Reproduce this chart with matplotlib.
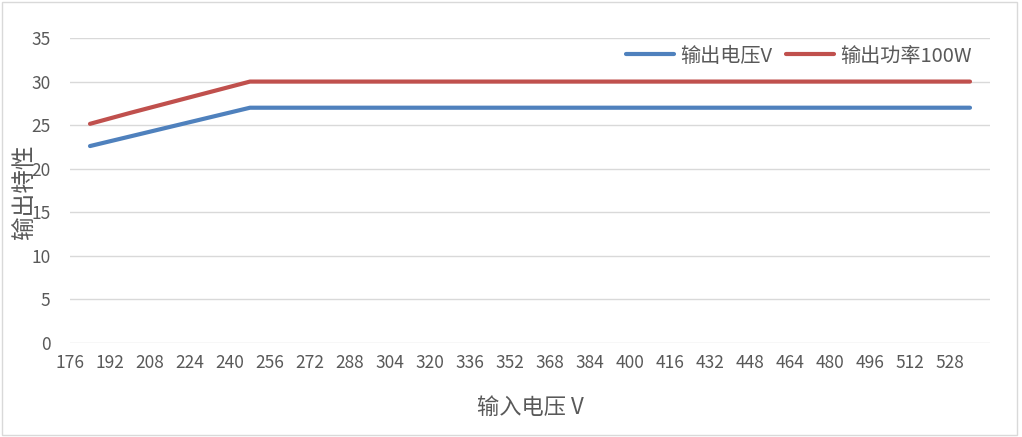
import matplotlib
matplotlib.use("Agg")
import matplotlib.pyplot as plt
from matplotlib.patches import Rectangle

plt.rcParams['font.family'] = ['Noto Sans CJK SC', 'DejaVu Sans']

# Data
input_voltage = [184, 200, 216, 232, 248, 536]
output_voltage = [22.6, 23.7, 24.8, 25.9, 27.0, 27.0]
output_power = [25.15, 26.4, 27.6, 28.8, 30.0, 30.0]
x_ticks = list(range(176, 529, 16))
y_ticks = [0, 5, 10, 15, 20, 25, 30, 35]
series_names = ['输出电压V', '输出功率100W']
x_label = '输入电压 V'
y_label = '输出特性'

fig = plt.figure(figsize=(10.22, 4.37), dpi=100)
ax = fig.add_axes([70/1022, 1-343/437, 920/1022, 305/437])

c_blue = '#4F81BD'
c_red = '#C0504D'
ax.plot(input_voltage, output_voltage, color=c_blue, lw=3.0, solid_capstyle='round', label=series_names[0], zorder=3)
ax.plot(input_voltage, output_power, color=c_red, lw=3.0, solid_capstyle='round', label=series_names[1], zorder=3)

ax.set_xlim(176, 544)
ax.set_ylim(0, 35)
ax.set_xticks(x_ticks)
ax.set_yticks(y_ticks)
ax.grid(axis='y', color='#D9D9D9', lw=1.0)
ax.set_axisbelow(True)
for s in ax.spines.values():
    s.set_visible(False)
ax.tick_params(length=0, labelsize=12.5, colors='#595959', pad=8)
ax.tick_params(axis='y', pad=14)

fig.text(530/1022, 1-407/437, x_label, ha='center', va='center', fontsize=16, color='#595959')
fig.text(24/1022, 1-192/437, y_label, ha='center', va='center', rotation=90, fontsize=17, color='#595959')

leg = fig.legend(loc='center right', bbox_to_anchor=(972/1022, 1-56/437), ncol=2, frameon=False,
                 fontsize=14.5, handlelength=2.4, columnspacing=0.7, handletextpad=0.3,
                 borderaxespad=0, borderpad=0)
for t in leg.get_texts():
    t.set_color('#595959')

fig.patches.append(Rectangle((0.002, 0.004), 0.993, 0.992, transform=fig.transFigure,
                             fill=False, edgecolor='#D9D9D9', lw=1.0))

fig.savefig('out.png', dpi=100)
